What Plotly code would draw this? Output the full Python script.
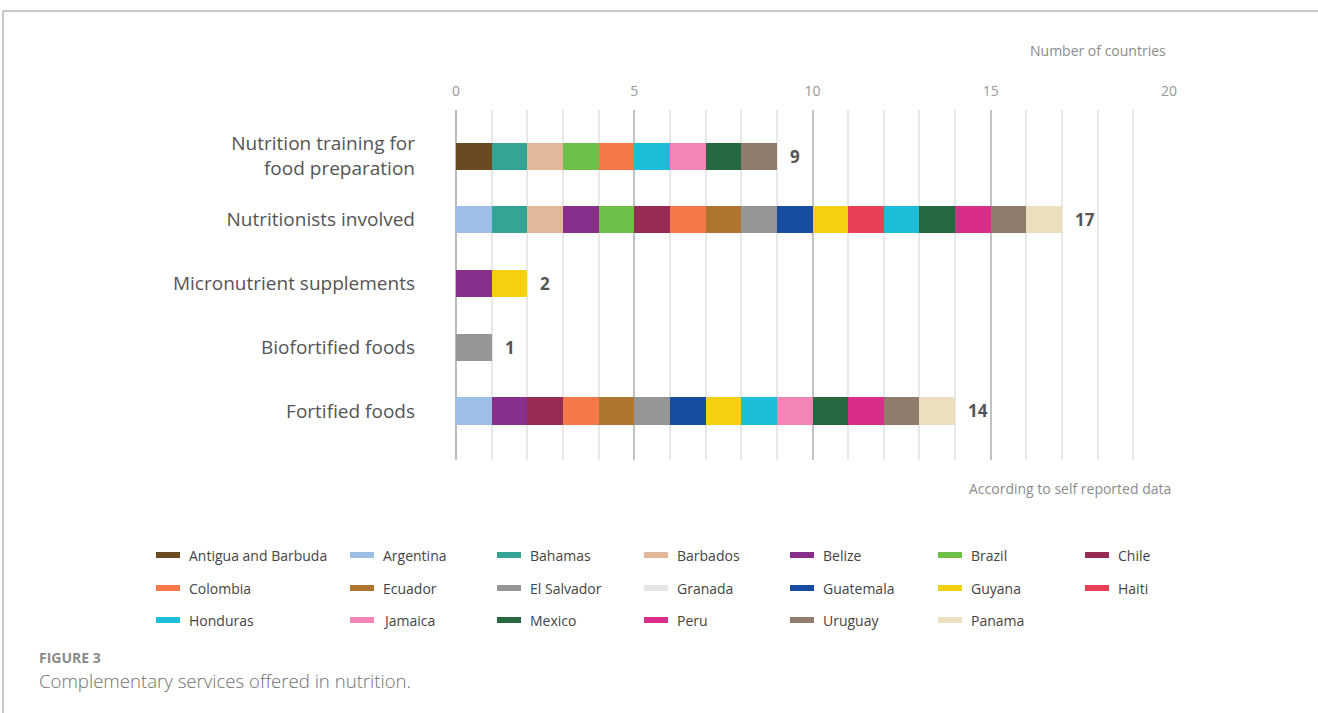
import plotly.graph_objects as go

# Services (top to bottom) and the countries that offer each one
services = [
    "Nutrition training for<br>food preparation",
    "Nutritionists involved",
    "Micronutrient supplements",
    "Biofortified foods",
    "Fortified foods",
]

countries = [
    "Antigua and Barbuda", "Argentina", "Bahamas", "Barbados", "Belize",
    "Brazil", "Chile", "Colombia", "Ecuador", "El Salvador", "Granada",
    "Guatemala", "Guyana", "Haiti", "Honduras", "Jamaica", "Mexico", "Peru",
    "Uruguay", "Panama",
]

colors = [
    "#6B4A22", "#9DBFE5", "#34A595", "#E1B89C", "#882F8B",
    "#6DBF4A", "#982B53", "#F4784A", "#AE7531", "#959698", "#E6E6E6",
    "#184C9F", "#F4D012", "#E84155", "#1DBDD9", "#F285B5", "#286840", "#D82E89",
    "#8F7C6C", "#ECDFBE",
]

# 1 = the country offers the service, 0 = it does not (one list per service)
training      = [1, 0, 1, 1, 0, 1, 0, 1, 0, 0, 0, 0, 0, 0, 1, 1, 1, 0, 1, 0]
nutritionists = [0, 1, 1, 1, 1, 1, 1, 1, 1, 1, 0, 1, 1, 1, 1, 0, 1, 1, 1, 1]
micronutrient = [0, 0, 0, 0, 1, 0, 0, 0, 0, 0, 0, 0, 1, 0, 0, 0, 0, 0, 0, 0]
biofortified  = [0, 0, 0, 0, 0, 0, 0, 0, 0, 1, 0, 0, 0, 0, 0, 0, 0, 0, 0, 0]
fortified     = [0, 1, 0, 0, 1, 0, 1, 1, 1, 1, 0, 1, 1, 0, 1, 1, 1, 1, 1, 1]

matrix = [training, nutritionists, micronutrient, biofortified, fortified]
totals = [sum(row) for row in matrix]

FONT = "Open Sans"
W, H = 1318, 713
L, R, T, B = 456, 1169, 110, 460  # plot area in pixels


def px_x(x):
    return (x - L) / (R - L)


def px_y(y):
    return (B - y) / (B - T)


fig = go.Figure()

for i, (name, col) in enumerate(zip(countries, colors)):
    vals = [row[i] if row[i] else None for row in matrix]
    fig.add_trace(go.Bar(
        y=services,
        x=vals,
        name=name,
        orientation="h",
        marker=dict(color=col, line=dict(width=0)),
        showlegend=False,
        hovertemplate=name + "<extra></extra>",
    ))

annotations = []

# totals at the end of each bar
for svc, tot in zip(services, totals):
    annotations.append(dict(
        x=tot, y=svc, xref="x", yref="y", text=f"<b>{tot}</b>",
        showarrow=False, xanchor="left", xshift=11,
        font=dict(family=FONT, size=17, color="#555555"),
    ))

annotations += [
    dict(x=px_x(1168), y=px_y(51), xref="paper", yref="paper",
         text="Number of countries", showarrow=False, xanchor="right",
         yanchor="middle", font=dict(family=FONT, size=14, color="#8c8c8c")),
    dict(x=px_x(1173), y=px_y(489), xref="paper", yref="paper",
         text="According to self reported data", showarrow=False,
         xanchor="right", yanchor="middle",
         font=dict(family=FONT, size=14, color="#8c8c8c")),
    dict(x=px_x(37), y=px_y(657), xref="paper", yref="paper",
         text="<b>FIGURE 3</b>", showarrow=False, xanchor="left",
         yanchor="middle", font=dict(family=FONT, size=14, color="#8a8a8a")),
    dict(x=px_x(37), y=px_y(680), xref="paper", yref="paper",
         text="Complementary services offered in nutrition.", showarrow=False,
         xanchor="left", yanchor="middle",
         font=dict(family=FONT, size=18.6, color="#707070", weight=300)),
]

shapes = [
    # outer frame: top and left edges
    dict(type="line", xref="paper", yref="paper",
         x0=px_x(3), x1=px_x(W + 5), y0=px_y(11), y1=px_y(11),
         line=dict(color="#b4b4b4", width=1.5)),
    dict(type="line", xref="paper", yref="paper",
         x0=px_x(3), x1=px_x(3), y0=px_y(11), y1=px_y(H + 5),
         line=dict(color="#b4b4b4", width=1.5)),
]

# key laid out in seven columns
col_x = [156, 350, 497, 644, 790, 938, 1085]
row_y = [555, 588, 620]
for i, (name, col) in enumerate(zip(countries, colors)):
    r, c = divmod(i, 7)
    x0 = col_x[c]
    y0 = row_y[r]
    shapes.append(dict(
        type="rect", xref="paper", yref="paper",
        x0=px_x(x0), x1=px_x(x0 + 24), y0=px_y(y0 - 3), y1=px_y(y0 + 3),
        fillcolor=col, line=dict(width=0),
    ))
    annotations.append(dict(
        x=px_x(x0 + 31), y=px_y(y0), xref="paper", yref="paper",
        text=name, showarrow=False, xanchor="left", yanchor="middle",
        font=dict(family=FONT, size=14, color="#444444"),
    ))

fig.update_layout(
    width=W, height=H,
    margin=dict(l=L, r=W - R, t=T, b=H - B, pad=0),
    paper_bgcolor="white", plot_bgcolor="white",
    barmode="stack",
    bargap=0.576,
    font=dict(family=FONT),
    annotations=annotations,
    shapes=shapes,
    xaxis=dict(
        side="top", range=[0, 20], dtick=5, tick0=0,
        showgrid=True, gridcolor="#c2c2c2", gridwidth=1.5,
        minor=dict(dtick=1, showgrid=True, gridcolor="#e8e8e8", gridwidth=1.5),
        zeroline=True, zerolinecolor="#bdbdbd", zerolinewidth=1.5,
        showline=False, ticks="", ticklabelstandoff=10,
        tickfont=dict(family=FONT, size=14, color="#9a9a9a"),
    ),
    yaxis=dict(
        type="category", categoryorder="array", categoryarray=services,
        range=[4.769, -0.722], showgrid=False, zeroline=False,
        showline=False, ticks="", ticklabelstandoff=40,
        tickfont=dict(family=FONT, size=19, color="#555555"),
    ),
)

fig.write_html("out.html")
